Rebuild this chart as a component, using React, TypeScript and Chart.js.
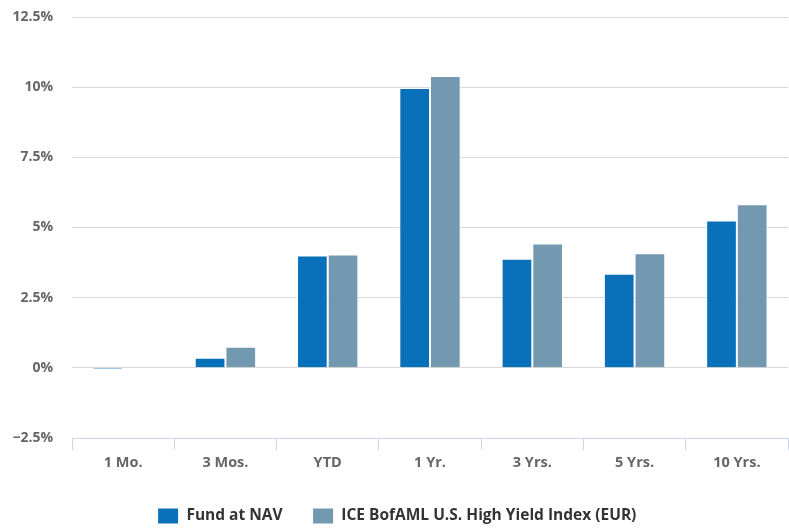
import React, { useEffect, useRef } from "react";
import { Chart, registerables } from "chart.js";

Chart.register(...registerables);

const categories = ["1 Mo.", "3 Mos.", "YTD", "1 Yr.", "3 Yrs.", "5 Yrs.", "10 Yrs."];
const fundAtNav = [-0.04, 0.36, 4.0, 9.97, 3.89, 3.35, 5.25];
const iceIndex = [0.0, 0.75, 4.04, 10.4, 4.43, 4.08, 5.83];
const seriesNames = ["Fund at NAV", "ICE BofAML U.S. High Yield Index (EUR)"];
const seriesColors = ["#0871b9", "#7399b0"];
const yMin = -2.5;
const yMax = 12.5;
const yStep = 2.5;

const FONT = "'Open Sans', 'DejaVu Sans', sans-serif";

function fmt(v: number): string {
  const s = String(Math.round(v * 10) / 10);
  return (v < 0 ? "\u2212" + s.slice(1) : s) + "%";
}

export default function App() {
  const ref = useRef<HTMLCanvasElement | null>(null);
  useEffect(() => {
    if (!ref.current) return;
    const chart = new Chart(ref.current, {
      type: "bar",
      data: {
        labels: categories,
        datasets: [
          {
            label: seriesNames[0],
            data: fundAtNav,
            backgroundColor: seriesColors[0],
            borderColor: "#ffffff",
            borderWidth: 1,
          },
          {
            label: seriesNames[1],
            data: iceIndex,
            backgroundColor: seriesColors[1],
            borderColor: "#ffffff",
            borderWidth: 1,
          },
        ],
      },
      options: {
        responsive: false,
        animation: false,
        layout: { padding: { top: 0, right: 1, left: 6, bottom: -5 } },
        datasets: { bar: { categoryPercentage: 0.6, barPercentage: 1.0 } },
        plugins: {
          tooltip: { enabled: false },
          legend: {
            position: "bottom",
            labels: {
              boxWidth: 21,
              boxHeight: 16,
              padding: 30,
              color: "#333333",
              font: { family: FONT, size: 15.5, weight: "bold" },
            },
          },
        },
        scales: {
          x: {
            grid: {
              offset: true,
              drawOnChartArea: false,
              drawTicks: true,
              tickLength: 12,
              color: "#ccd6eb",
            },
            border: { display: true, color: "#ccd6eb" },
            ticks: {
              color: "#666666",
              padding: 4,
              font: { family: FONT, size: 14.5, weight: "bold" },
            },
            afterFit: (scale: any) => {
              scale.height = 40;
            },
          },
          y: {
            min: yMin,
            max: yMax,
            grid: { color: "#d8d8d8", drawTicks: false },
            border: { display: false },
            ticks: {
              stepSize: yStep,
              padding: 19,
              color: "#666666",
              font: { family: FONT, size: 14, weight: "bold" },
              callback: (v: any) => fmt(Number(v)),
            },
            afterFit: (scale: any) => {
              scale.width = 66;
              scale.paddingTop = 17;
              scale.paddingBottom = 0;
            },
          },
        },
      },
    });
    return () => chart.destroy();
  }, []);
  return (
    <div style={{ position: "fixed", left: 0, top: 0, width: 789, height: 529, background: "#fff" }}>
      <canvas ref={ref} width={789} height={529} />
    </div>
  );
}
